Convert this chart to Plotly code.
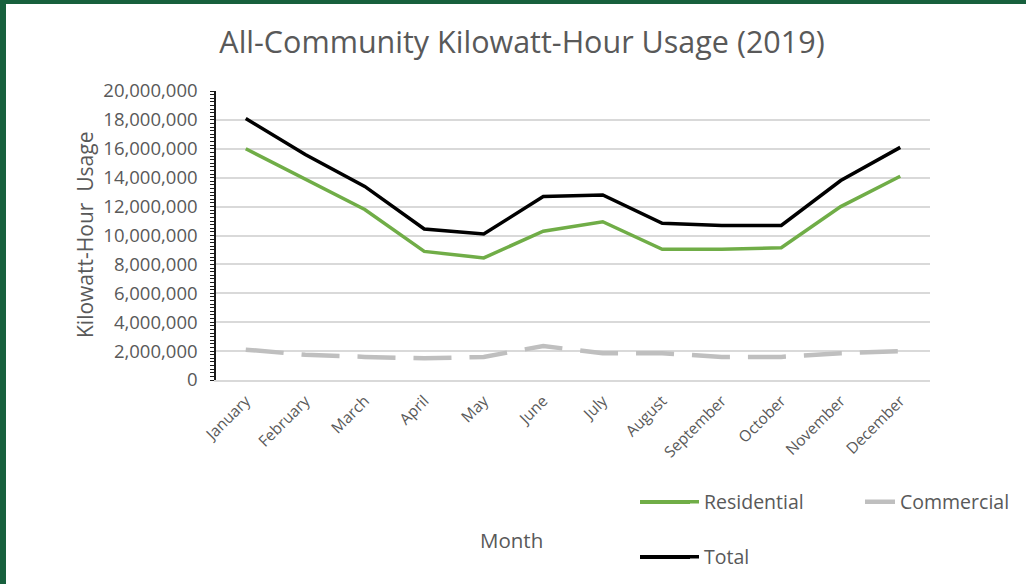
import plotly.graph_objects as go

months = ["January", "February", "March", "April", "May", "June", "July",
          "August", "September", "October", "November", "December"]
residential = [16.0e6, 13.9e6, 11.8e6, 8.9e6, 8.45e6, 10.3e6, 10.95e6, 9.05e6, 9.05e6, 9.15e6, 12.0e6, 14.1e6]
commercial = [2.1e6, 1.75e6, 1.6e6, 1.5e6, 1.6e6, 2.35e6, 1.85e6, 1.85e6, 1.6e6, 1.6e6, 1.85e6, 2.0e6]
total = [18.1e6, 15.6e6, 13.4e6, 10.45e6, 10.1e6, 12.7e6, 12.8e6, 10.85e6, 10.7e6, 10.7e6, 13.8e6, 16.1e6]

W, H = 1026, 584
L, R, T, B = 216, 96, 91, 204
PW, PH = W - L - R, H - T - B

def px(x):
    return (x - L) / PW

def py(y):
    return (H - B - y) / PH

FONT = "Open Sans"
GRAY = "#595959"
C_RES, C_COM, C_TOT = "#70ad47", "#bfbfbf", "#000000"

fig = go.Figure()
fig.add_trace(go.Scatter(x=months, y=residential, mode="lines", name="Residential",
                         line=dict(color=C_RES, width=3.5), legend="legend"))
fig.add_trace(go.Scatter(x=months, y=commercial, mode="lines", name="Commercial",
                         line=dict(color=C_COM, width=4.5, dash="38px,18px"), legend="legend2"))
fig.add_trace(go.Scatter(x=months, y=total, mode="lines", name="Total",
                         line=dict(color=C_TOT, width=3.5), legend="legend3"))

leg_common = dict(xanchor="left", yanchor="middle", bgcolor="rgba(0,0,0,0)",
                  font=dict(family=FONT, size=19.5, color=GRAY))

fig.update_layout(
    width=W, height=H,
    margin=dict(l=L, r=R, t=T, b=B, autoexpand=False),
    paper_bgcolor="white", plot_bgcolor="white",
    title=dict(text="All-Community Kilowatt-Hour Usage (2019)", x=522 / W, xanchor="center",
               y=1 - 42 / H, yanchor="middle",
               font=dict(family=FONT, size=30.5, color=GRAY)),
    xaxis=dict(type="category", range=[-0.5, 11.5], showgrid=False,
               showline=True, linecolor="#d9d9d9", linewidth=1.5, automargin=False,
               tickangle=-45, ticks="", ticklabelstandoff=4,
               tickfont=dict(family=FONT, size=15.5, color=GRAY)),
    yaxis=dict(range=[0, 20e6], dtick=2e6, tickformat=",d", automargin=False,
               showgrid=True, gridcolor="#d9d9d9", gridwidth=1.5,
               zeroline=False, showline=True, linecolor="#1a1a1a", linewidth=1.5,
               ticks="outside", ticklen=4, tickcolor="#1a1a1a", tickwidth=1,
               ticklabelstandoff=9,
               minor=dict(dtick=250000, ticks="outside", ticklen=4, tickcolor="#1a1a1a",
                          tickwidth=1, showgrid=False),
               tickfont=dict(family=FONT, size=18.5, color=GRAY)),
    legend=dict(x=px(664), y=py(502), **leg_common),
    legend2=dict(x=px(860), y=py(502), **leg_common),
    legend3=dict(x=px(664), y=py(557), **leg_common),
    showlegend=True,
)

fig.add_annotation(text="Kilowatt-Hour  Usage", xref="paper", yref="paper",
                   x=px(85), y=py(235), textangle=-90, showarrow=False,
                   xanchor="center", yanchor="middle",
                   font=dict(family=FONT, size=21, color=GRAY))
fig.add_annotation(text="Month", xref="paper", yref="paper",
                   x=px(511), y=py(540), showarrow=False,
                   xanchor="center", yanchor="middle",
                   font=dict(family=FONT, size=20.5, color=GRAY))

# longer legend keys, as in the original
for yk, col in ((502, C_RES), (557, C_TOT)):
    fig.add_shape(type="line", xref="paper", yref="paper", x0=px(640), x1=px(690),
                  y0=py(yk), y1=py(yk), line=dict(color=col, width=4), layer="above")

green = "#17603d"
fig.add_shape(type="rect", xref="paper", yref="paper", x0=px(-2), x1=px(6), y0=py(H + 2), y1=py(-2),
              fillcolor=green, line=dict(width=0), layer="above")
fig.add_shape(type="rect", xref="paper", yref="paper", x0=px(-2), x1=px(W + 2), y0=py(4), y1=py(-2),
              fillcolor=green, line=dict(width=0), layer="above")

fig.write_html("out.html")
